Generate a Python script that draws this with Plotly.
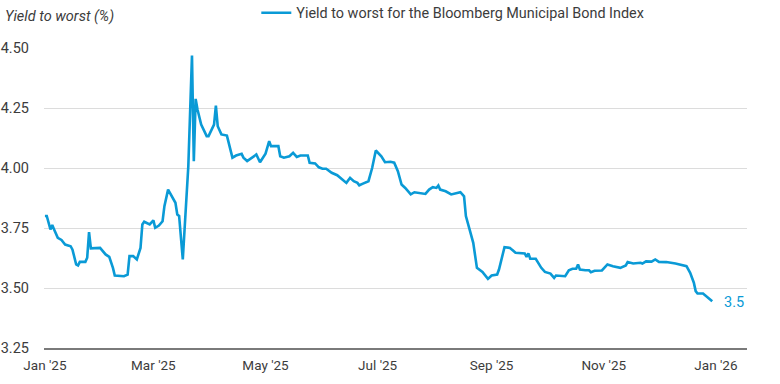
import plotly.graph_objects as go

dates = [
    "2025-01-01", "2025-01-02", "2025-01-04", "2025-01-05", "2025-01-06", "2025-01-08",
    "2025-01-10", "2025-01-12", "2025-01-15", "2025-01-16", "2025-01-18", "2025-01-19",
    "2025-01-20", "2025-01-23", "2025-01-24", "2025-01-25", "2025-01-26", "2025-01-28",
    "2025-01-31", "2025-02-03", "2025-02-05", "2025-02-07", "2025-02-08", "2025-02-13",
    "2025-02-15", "2025-02-16", "2025-02-18", "2025-02-20", "2025-02-22", "2025-02-23",
    "2025-02-24", "2025-02-27", "2025-03-01", "2025-03-02", "2025-03-04", "2025-03-06",
    "2025-03-07", "2025-03-09", "2025-03-10", "2025-03-13", "2025-03-14", "2025-03-15",
    "2025-03-17", "2025-03-20", "2025-03-22", "2025-03-23", "2025-03-24", "2025-03-25",
    "2025-03-27", "2025-03-30", "2025-03-31", "2025-04-02", "2025-04-03", "2025-04-04",
    "2025-04-05", "2025-04-07", "2025-04-10", "2025-04-13", "2025-04-15", "2025-04-18",
    "2025-04-19", "2025-04-21", "2025-04-26", "2025-04-28", "2025-05-01", "2025-05-03",
    "2025-05-04", "2025-05-08", "2025-05-09", "2025-05-11", "2025-05-14", "2025-05-16",
    "2025-05-18", "2025-05-20", "2025-05-24", "2025-05-25", "2025-05-28", "2025-05-30",
    "2025-06-01", "2025-06-03", "2025-06-06", "2025-06-09", "2025-06-12", "2025-06-14",
    "2025-06-16", "2025-06-18", "2025-06-20", "2025-06-21", "2025-06-23", "2025-06-26",
    "2025-06-28", "2025-06-30", "2025-07-03", "2025-07-05", "2025-07-08", "2025-07-10",
    "2025-07-12", "2025-07-14", "2025-07-16", "2025-07-19", "2025-07-21", "2025-07-24",
    "2025-07-27", "2025-07-29", "2025-07-31", "2025-08-02", "2025-08-03", "2025-08-04",
    "2025-08-07", "2025-08-10", "2025-08-13", "2025-08-15", "2025-08-17", "2025-08-18",
    "2025-08-20", "2025-08-22", "2025-08-24", "2025-08-25", "2025-08-27", "2025-08-30",
    "2025-09-01", "2025-09-04", "2025-09-05", "2025-09-08", "2025-09-11", "2025-09-12",
    "2025-09-14", "2025-09-19", "2025-09-20", "2025-09-21", "2025-09-22", "2025-09-25",
    "2025-09-28", "2025-09-30", "2025-10-03", "2025-10-05", "2025-10-06", "2025-10-11",
    "2025-10-13", "2025-10-15", "2025-10-17", "2025-10-18", "2025-10-19", "2025-10-22",
    "2025-10-24", "2025-10-25", "2025-10-27", "2025-10-31", "2025-11-03", "2025-11-06",
    "2025-11-10", "2025-11-13", "2025-11-14", "2025-11-17", "2025-11-21", "2025-11-22",
    "2025-11-24", "2025-11-27", "2025-11-29", "2025-12-01", "2025-12-05", "2025-12-10",
    "2025-12-13", "2025-12-16", "2025-12-18", "2025-12-20", "2025-12-21", "2025-12-22",
    "2025-12-25", "2025-12-27", "2025-12-30",
]

yields = [
    3.80, 3.80, 3.744, 3.762, 3.744, 3.709,
    3.70, 3.681, 3.674, 3.66, 3.598, 3.594,
    3.609, 3.609, 3.626, 3.733, 3.665, 3.665,
    3.667, 3.64, 3.63, 3.584, 3.552, 3.549,
    3.556, 3.633, 3.633, 3.619, 3.667, 3.765,
    3.776, 3.765, 3.782, 3.751, 3.76, 3.778,
    3.841, 3.91, 3.896, 3.855, 3.806, 3.80,
    3.619, 4.007, 4.469, 4.028, 4.288, 4.244,
    4.181, 4.133, 4.133, 4.163, 4.181, 4.26,
    4.174, 4.14, 4.135, 4.043, 4.052, 4.059,
    4.043, 4.029, 4.056, 4.024, 4.06, 4.112,
    4.091, 4.091, 4.049, 4.043, 4.049, 4.063,
    4.046, 4.052, 4.052, 4.022, 4.019, 4.003,
    3.997, 3.997, 3.98, 3.97, 3.952, 3.938,
    3.959, 3.945, 3.938, 3.928, 3.935, 3.945,
    4.0, 4.073, 4.049, 4.024, 4.026, 4.022,
    3.987, 3.931, 3.917, 3.89, 3.899, 3.894,
    3.892, 3.91, 3.92, 3.917, 3.927, 3.91,
    3.903, 3.89, 3.894, 3.899, 3.882, 3.80,
    3.744, 3.688, 3.584, 3.577, 3.567, 3.538,
    3.552, 3.556, 3.577, 3.67, 3.667, 3.66,
    3.647, 3.644, 3.63, 3.644, 3.622, 3.622,
    3.584, 3.567, 3.56, 3.542, 3.552, 3.549,
    3.574, 3.58, 3.58, 3.598, 3.577, 3.574,
    3.574, 3.566, 3.572, 3.573, 3.598, 3.591,
    3.584, 3.594, 3.608, 3.602, 3.605, 3.602,
    3.611, 3.61, 3.619, 3.609, 3.608, 3.602,
    3.598, 3.591, 3.563, 3.522, 3.487, 3.477,
    3.477, 3.463, 3.445,
]

y_ticks = [3.25, 3.50, 3.75, 4.00, 4.25, 4.50]
y_tick_labels = ["3.25", "3.50", "3.75", "4.00", "4.25", "4.50"]
series_name = "Yield to worst for the Bloomberg Municipal Bond Index"
end_label = "3.5"

BLUE = "#0a9ad6"
TEXT = "#3c3c3c"
FONT = "Roboto"

fig = go.Figure()
fig.add_trace(go.Scatter(
    x=dates, y=yields, mode="lines", name=series_name,
    line=dict(color=BLUE, width=2.6), showlegend=True,
))

fig.add_annotation(
    x=dates[-1], y=yields[-1], xref="x", yref="y", text=end_label,
    showarrow=False, xanchor="left", yanchor="middle", xshift=10, yshift=-1,
    font=dict(family=FONT, size=14.5, color=BLUE),
)
fig.add_annotation(
    x=0, y=1, xref="paper", yref="paper", text="<i>Yield to worst (%)</i>",
    showarrow=False, xanchor="left", yanchor="middle", xshift=-41, yshift=32,
    font=dict(family=FONT, size=14.5, color=TEXT),
)

fig.update_layout(
    width=780, height=384,
    margin=dict(l=44, r=33, t=48, b=36, autoexpand=False),
    paper_bgcolor="white", plot_bgcolor="white",
    font=dict(family=FONT, size=13, color=TEXT),
    legend=dict(
        orientation="h", x=0.302, y=1.117, xanchor="left", yanchor="middle",
        font=dict(family=FONT, size=14.4, color=TEXT),
        bgcolor="rgba(0,0,0,0)", itemwidth=30,
    ),
    xaxis=dict(
        type="date",
        range=["2024-12-31 12:00", "2026-01-17 22:00"],
        tick0="2025-01-01", dtick="M2", tickformat="%b '%y",
        showgrid=False, showline=True, linecolor="#7a7a7a", linewidth=2,
        ticks="", ticklabelstandoff=4, zeroline=False,
        tickfont=dict(family=FONT, size=13.5, color=TEXT),
    ),
    yaxis=dict(
        range=[3.25, 4.5], tickvals=y_ticks, ticktext=y_tick_labels,
        showgrid=True, gridcolor="#dcdcdc", gridwidth=1,
        zeroline=False, showline=False, ticks="", ticklabelstandoff=14,
        tickfont=dict(family=FONT, size=14.5, color=TEXT),
    ),
)

# Remove the browser's default 8px body margin so the figure sits at the page origin.
fig.write_html(
    "out.html",
    config={"displayModeBar": False},
    post_script="document.body.style.margin='0';document.body.style.overflow='hidden';",
)
